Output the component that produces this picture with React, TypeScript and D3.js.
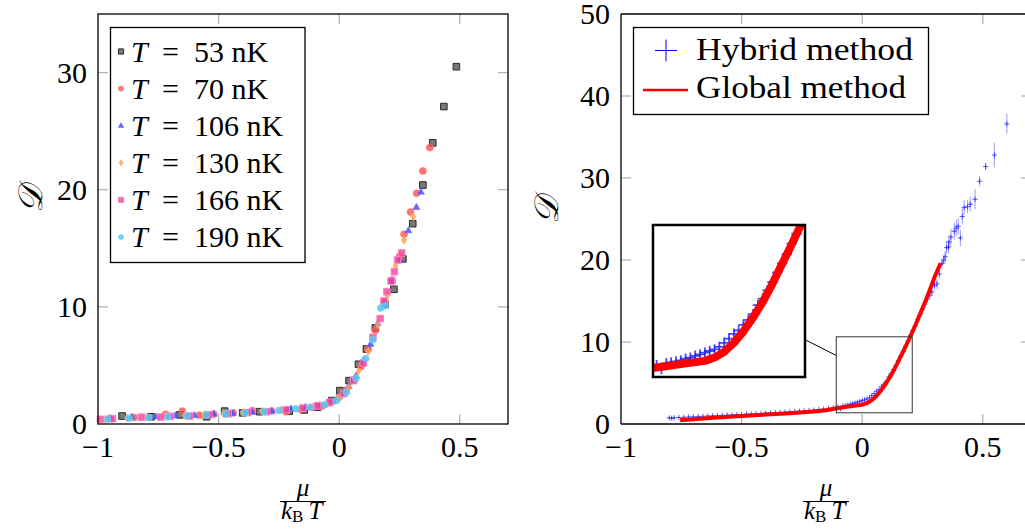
import React from 'react';
import * as d3 from 'd3';

// ---------- data ----------
const tempLabels = ['53', '70', '106', '130', '166', '190'];

const s53: [number, number][] = [
  [-0.9, 0.68], [-0.78, 0.62], [-0.66, 0.78], [-0.55, 0.62], [-0.475, 1.1], [-0.4, 0.95],
  [-0.33, 1.05], [-0.207, 1.1], [-0.145, 1.2], [-0.09, 1.43], [-0.03, 2.0], [0.003, 2.85],
  [0.041, 3.7], [0.08, 5.1], [0.113, 6.4], [0.15, 8.2], [0.19, 10.2], [0.227, 11.5],
  [0.264, 14.1], [0.305, 17.1], [0.347, 20.4], [0.388, 24.0], [0.434, 27.1], [0.486, 30.5],
];
const s70: [number, number][] = [
  [-0.95, 0.5], [-0.85, 0.55], [-0.72, 0.83], [-0.65, 1.1], [-0.58, 0.75], [-0.52, 0.85],
  [-0.44, 0.95], [-0.36, 1.15], [-0.28, 1.1], [-0.22, 1.05], [-0.16, 1.25], [-0.11, 1.43],
  [-0.07, 1.54], [-0.04, 1.8], [0.0, 2.3], [0.03, 2.9], [0.06, 3.8], [0.09, 4.9],
  [0.12, 6.4], [0.15, 8.0], [0.19, 10.4], [0.22, 12.3], [0.25, 14.3], [0.269, 16.2],
  [0.296, 18.1], [0.321, 19.7], [0.347, 21.6], [0.376, 23.6],
];
const s106: [number, number][] = [
  [-0.95, 0.45], [-0.86, 0.6], [-0.76, 0.62], [-0.68, 0.7], [-0.6, 0.72], [-0.52, 0.85],
  [-0.44, 0.9], [-0.36, 1.0], [-0.28, 1.1], [-0.2, 1.3], [-0.14, 1.45], [-0.08, 1.6],
  [-0.03, 1.95], [0.01, 2.5], [0.04, 3.2], [0.07, 4.1], [0.1, 5.4], [0.13, 6.8],
  [0.16, 8.6], [0.19, 10.2], [0.22, 12.2], [0.25, 14.0], [0.287, 16.5], [0.32, 18.5], [0.339, 19.8],
];
const s130: [number, number][] = [
  [-0.97, 0.4], [-0.88, 0.5], [-0.8, 0.58], [-0.72, 0.66], [-0.64, 0.72], [-0.56, 0.8],
  [-0.48, 0.88], [-0.4, 0.98], [-0.32, 1.08], [-0.24, 1.2], [-0.16, 1.38], [-0.1, 1.55],
  [-0.05, 1.75], [0.0, 2.2], [0.04, 3.1], [0.08, 4.5], [0.12, 6.2], [0.16, 8.5],
  [0.2, 11.0], [0.234, 13.5], [0.269, 15.7], [0.307, 17.7],
];
const s166: [number, number][] = [
  [-0.99, 0.4], [-0.94, 0.45], [-0.82, 0.58], [-0.74, 0.6], [-0.7, 0.65], [-0.62, 0.68],
  [-0.54, 0.78], [-0.46, 0.88], [-0.38, 0.98], [-0.3, 1.05], [-0.22, 1.22], [-0.15, 1.35],
  [-0.09, 1.55], [-0.04, 1.85], [0.02, 2.6], [0.06, 3.7], [0.1, 5.2], [0.14, 7.4],
  [0.17, 9.0], [0.186, 10.5], [0.198, 11.3], [0.215, 12.2], [0.229, 13.0], [0.242, 14.0], [0.259, 14.6],
];
const s190: [number, number][] = [
  [-0.96, 0.42], [-0.87, 0.5], [-0.79, 0.55], [-0.71, 0.62], [-0.63, 0.7], [-0.55, 0.78],
  [-0.47, 0.85], [-0.39, 0.95], [-0.31, 1.05], [-0.25, 1.15], [-0.18, 1.3], [-0.12, 1.42],
  [-0.06, 1.65], [-0.01, 2.0], [0.03, 2.7], [0.07, 3.9], [0.11, 5.6], [0.14, 7.2],
  [0.172, 9.9], [0.19, 10.1],
];
const leftSeries = [s53, s70, s106, s130, s166, s190];

// Global method (red line)
const globalX = [-0.755, -0.7, -0.6, -0.5, -0.4, -0.3, -0.2, -0.15, -0.1, -0.05, 0, 0.02, 0.04,
  0.06, 0.08, 0.1, 0.12, 0.14, 0.16, 0.18, 0.2, 0.22, 0.24, 0.26, 0.28, 0.3, 0.325];
const globalD = [0.45, 0.58, 0.78, 0.98, 1.15, 1.32, 1.52, 1.68, 1.95, 2.15, 2.35, 2.55, 2.9,
  3.45, 4.15, 5.0, 5.95, 7.05, 8.25, 9.45, 10.7, 12.0, 13.4, 14.8, 16.3, 17.9, 19.6];

// Hybrid method: [mu/kT, D, error]
const hybrid: [number, number, number][] = [
  [-0.8, 0.75, 0.1], [-0.79, 0.7, 0.1], [-0.78, 0.76, 0.1], [-0.76, 0.8, 0.1], [-0.74, 0.82, 0.1],
  [-0.72, 0.86, 0.1], [-0.7, 0.88, 0.1], [-0.68, 0.92, 0.1], [-0.66, 0.94, 0.1], [-0.64, 0.98, 0.1],
  [-0.62, 1.0, 0.1], [-0.6, 1.02, 0.1], [-0.58, 1.05, 0.1], [-0.56, 1.08, 0.1], [-0.54, 1.1, 0.1],
  [-0.52, 1.13, 0.1], [-0.5, 1.16, 0.1], [-0.48, 1.2, 0.1], [-0.46, 1.22, 0.1], [-0.44, 1.26, 0.1],
  [-0.42, 1.28, 0.1], [-0.4, 1.32, 0.1], [-0.38, 1.34, 0.1], [-0.36, 1.38, 0.1], [-0.34, 1.41, 0.1],
  [-0.32, 1.44, 0.1], [-0.3, 1.48, 0.1], [-0.28, 1.52, 0.1], [-0.26, 1.56, 0.1], [-0.24, 1.6, 0.1],
  [-0.22, 1.65, 0.1], [-0.2, 1.7, 0.1], [-0.18, 1.76, 0.1], [-0.16, 1.82, 0.1], [-0.14, 1.9, 0.1],
  [-0.12, 1.98, 0.1], [-0.1, 2.08, 0.1], [-0.09, 1.85, 0.1], [-0.08, 2.2, 0.1], [-0.07, 2.25, 0.1],
  [-0.06, 2.32, 0.1], [-0.05, 2.38, 0.1], [-0.04, 2.48, 0.1], [-0.03, 2.55, 0.1], [-0.02, 2.66, 0.1],
  [-0.01, 2.74, 0.1], [0.0, 2.85, 0.1], [0.01, 2.95, 0.1], [0.02, 3.05, 0.1], [0.03, 3.2, 0.1],
  [0.04, 3.45, 0.1], [0.05, 3.7, 0.1], [0.06, 4.0, 0.1], [0.07, 4.2, 0.1], [0.08, 4.55, 0.15],
  [0.09, 4.85, 0.15], [0.1, 5.2, 0.15], [0.11, 5.75, 0.15], [0.12, 6.15, 0.15], [0.13, 6.65, 0.2],
  [0.14, 7.15, 0.2], [0.15, 7.75, 0.2], [0.16, 8.3, 0.2], [0.17, 8.85, 0.2], [0.18, 9.5, 0.25],
  [0.19, 10.1, 0.25], [0.2, 10.8, 0.25], [0.21, 11.4, 0.3], [0.22, 12.0, 0.3], [0.23, 12.7, 0.3],
  [0.24, 13.3, 0.3], [0.25, 14.0, 0.35], [0.26, 14.6, 0.35], [0.27, 15.2, 0.4], [0.28, 15.7, 0.4],
  [0.289, 16.1, 0.5], [0.3, 16.9, 0.5], [0.31, 17.1, 0.6], [0.32, 18.3, 0.6], [0.331, 19.6, 0.6],
  [0.338, 20.0, 0.6], [0.344, 20.4, 0.7], [0.35, 21.5, 0.8], [0.358, 21.6, 0.8], [0.36, 22.2, 0.8],
  [0.368, 22.8, 1.0], [0.382, 23.5, 1.0], [0.39, 23.9, 1.0], [0.398, 24.1, 1.0], [0.407, 22.7, 1.0],
  [0.415, 25.3, 1.0], [0.423, 26.4, 0.9], [0.437, 26.5, 0.8], [0.448, 26.8, 0.9], [0.468, 27.4, 1.2],
  [0.487, 29.6, 0.6], [0.512, 31.4, 0.5], [0.548, 32.8, 1.5], [0.6, 36.6, 1.2],
];

const xTickVals = [-1, -0.5, 0, 0.5];
const leftYTickVals = [0, 10, 20, 30];
const rightYTickVals = [0, 10, 20, 30, 40, 50];
const legendRight = ['Hybrid method', 'Global method'];

// ---------- layout ----------
const FONT = '"Liberation Serif", "DejaVu Serif", serif';
const xL = d3.scaleLinear().domain([-1, 0.7]).range([98, 508]);
const yL = d3.scaleLinear().domain([0, 35]).range([424, 14]);
const xR = d3.scaleLinear().domain([-1, 0.7]).range([621, 1031]);
const yR = d3.scaleLinear().domain([0, 50]).range([424, 14]);

const fmt = (v: number) => (v < 0 ? '\u2212' + Math.abs(v) : String(v));

const styles = [
  { shape: 'square', fill: '#6a6a6a', stroke: '#2a2a2a', fo: 0.9 },
  { shape: 'circle', fill: '#ff5252', stroke: '#ff7070', fo: 0.8 },
  { shape: 'triangle', fill: '#4a4aff', stroke: '#6a6aff', fo: 0.85 },
  { shape: 'diamond', fill: '#ffa050', stroke: '#ffb070', fo: 0.85 },
  { shape: 'square', fill: '#f0409c', stroke: '#ff80c4', fo: 0.8 },
  { shape: 'circle', fill: '#55c4f0', stroke: '#80d4f5', fo: 0.85 },
];

function Marker({ shape, x, y, r, fill, stroke, fo }: any) {
  if (shape === 'circle')
    return <circle cx={x} cy={y} r={r} fill={fill} fillOpacity={fo} stroke={stroke} strokeWidth={0.6} />;
  let d = '';
  if (shape === 'square') d = `M${-r},${-r}h${2 * r}v${2 * r}h${-2 * r}Z`;
  else if (shape === 'triangle') d = `M0,${-r * 1.2}L${r * 1.05},${r * 0.65}L${-r * 1.05},${r * 0.65}Z`;
  else d = `M0,${-r * 1.25}L${r * 0.8},0L0,${r * 1.25}L${-r * 0.8},0Z`;
  return (
    <path d={d} transform={`translate(${x},${y})`} fill={fill} fillOpacity={fo} stroke={stroke}
      strokeWidth={shape === 'square' ? 1 : 0.6} />
  );
}

function Ticks({ sx, sy, yTicks }: any) {
  const [x0, x1] = sx.range();
  const [y0, y1] = sy.range();
  const tl = 10;
  const c = '#b4b4b4';
  return (
    <g stroke={c} strokeWidth={1.3}>
      {xTickVals.filter((v) => v > sx.domain()[0]).map((v) => (
        <g key={'x' + v}>
          <line x1={sx(v)} x2={sx(v)} y1={y0} y2={y0 - tl} />
          <line x1={sx(v)} x2={sx(v)} y1={y1} y2={y1 + tl} />
        </g>
      ))}
      {yTicks.filter((v: number) => v > 0 && v < sy.domain()[1]).map((v: number) => (
        <g key={'y' + v}>
          <line x1={x0} x2={x0 + tl} y1={sy(v)} y2={sy(v)} />
          <line x1={x1} x2={x1 - tl} y1={sy(v)} y2={sy(v)} />
        </g>
      ))}
    </g>
  );
}

function TickLabels({ sx, sy, yTicks }: any) {
  const x0 = sx.range()[0];
  return (
    <g fontFamily={FONT} fontSize={30} fill="#000">
      {xTickVals.map((v) => (
        <text key={'x' + v} x={sx(v)} y={457} textAnchor="middle">{fmt(v)}</text>
      ))}
      {yTicks.map((v: number) => (
        <text key={'y' + v} x={x0 - 11} y={sy(v) + 10} textAnchor="end">{fmt(v)}</text>
      ))}
    </g>
  );
}

function XLabel({ cx }: { cx: number }) {
  return (
    <g fontFamily={FONT} fill="#000">
      <text x={cx} y={496} textAnchor="middle" fontSize={25} fontStyle="italic">μ</text>
      <line x1={cx - 23} x2={cx + 23} y1={501.5} y2={501.5} stroke="#000" strokeWidth={1} />
      <text x={cx - 22} y={519} fontSize={25}>
        <tspan fontStyle="italic">k</tspan>
        <tspan fontSize={17} dy={3}>B</tspan>
        <tspan fontStyle="italic" dy={-3} dx={5}>T</tspan>
      </text>
    </g>
  );
}

function YLabel({ x, y }: { x: number; y: number }) {
  return (
    <text transform={`translate(${x},${y}) rotate(-90)`} textAnchor="middle" fontFamily={FONT}
      fontSize={34} fontStyle="italic" fill="#000">𝒟</text>
  );
}

function HybridAndGlobal() {
  const line = d3.line<number>().x((_, i) => xR(globalX[i])).y((d) => yR(d));
  const cs = 2.6;
  return (
    <g>
      <g stroke="#3030ff" strokeOpacity={0.55} strokeWidth={0.9}>
        {hybrid.map(([x, d, e], i) => (
          <line key={'e' + i} x1={xR(x)} x2={xR(x)} y1={yR(d - e)} y2={yR(d + e)} />
        ))}
      </g>
      <g stroke="#1010ff" strokeOpacity={0.75} strokeWidth={0.9}>
        {hybrid.map(([x, d], i) => (
          <path key={'c' + i} d={`M${xR(x) - cs},${yR(d)}h${2 * cs}M${xR(x)},${yR(d) - cs}v${2 * cs}`} />
        ))}
      </g>
      <path d={line(globalD) || ''} fill="none" stroke="#ff0000" strokeWidth={4} strokeLinejoin="round" />
    </g>
  );
}

export default function App() {
  // spy
  const spyC = [xR(0.05), yR(6)];
  const spyS = 76;
  const mag = 2;
  const insC = [729, 301];
  const insS = spyS * mag;
  const slope = (spyC[1] - insC[1]) / (spyC[0] - insC[0]);
  const lx1 = insC[0] + insS / 2;
  const ly1 = insC[1] + slope * (insS / 2);
  const lx2 = spyC[0] - spyS / 2;
  const ly2 = insC[1] + slope * (lx2 - insC[0]);

  return (
    <svg width={1025} height={532} style={{ position: 'absolute', left: 0, top: 0, display: 'block', background: '#fff' }}>
      <defs>
        <clipPath id="insetClip">
          <rect x={insC[0] - insS / 2} y={insC[1] - insS / 2} width={insS} height={insS} />
        </clipPath>
      </defs>
      <rect width={1025} height={532} fill="#fff" />

      {/* ---------- LEFT PANEL ---------- */}
      <Ticks sx={xL} sy={yL} yTicks={leftYTickVals} />
      <g>
        {leftSeries.map((s, si) => (
          <g key={si}>
            {s.map(([x, d], i) => (
              <Marker key={i} {...styles[si]} x={xL(x)} y={yL(d)}
                r={styles[si].shape === 'square' ? 3.3 : styles[si].shape === 'circle' ? 3.5 : 3.3} />
            ))}
          </g>
        ))}
      </g>
      <rect x={98} y={14} width={410} height={410} fill="none" stroke="#000" strokeWidth={1.3} />
      <TickLabels sx={xL} sy={yL} yTicks={leftYTickVals} />
      <XLabel cx={303} />
      <YLabel x={42} y={199} />
      <g>
        <rect x={110.5} y={27.5} width={194.5} height={235} fill="#fff" stroke="#000" strokeWidth={1.3} />
        {tempLabels.map((t, i) => {
          const cy = 51.5 + i * 37.1;
          return (
            <g key={t}>
              <Marker {...styles[i]} x={121} y={cy} r={2.6} />
              <text y={cy + 10} fontFamily={FONT} fontSize={30} fill="#000">
                <tspan x={131} fontStyle="italic">T</tspan>
                <tspan x={162}>=</tspan>
                <tspan x={194}>{t} nK</tspan>
              </text>
            </g>
          );
        })}
      </g>

      {/* ---------- RIGHT PANEL ---------- */}
      <Ticks sx={xR} sy={yR} yTicks={rightYTickVals} />
      <HybridAndGlobal />
      <line x1={621} x2={1031} y1={424} y2={424} stroke="#000" strokeWidth={1.3} />
      <line x1={621} x2={1031} y1={14} y2={14} stroke="#000" strokeWidth={1.3} />
      <line x1={621} x2={621} y1={14} y2={424} stroke="#000" strokeWidth={1.3} />
      <TickLabels sx={xR} sy={yR} yTicks={rightYTickVals} />
      <XLabel cx={826} />
      <YLabel x={558} y={210} />

      {/* spy */}
      <rect x={spyC[0] - spyS / 2} y={spyC[1] - spyS / 2} width={spyS} height={spyS} fill="none"
        stroke="#333" strokeWidth={1} />
      <line x1={lx1} y1={ly1} x2={lx2} y2={ly2} stroke="#000" strokeWidth={1} />
      <rect x={insC[0] - insS / 2} y={insC[1] - insS / 2} width={insS} height={insS} fill="#fff" />
      <g clipPath="url(#insetClip)">
        <g transform={`translate(${insC[0]},${insC[1]}) scale(${mag}) translate(${-spyC[0]},${-spyC[1]})`}>
          <HybridAndGlobal />
        </g>
      </g>
      <rect x={insC[0] - insS / 2} y={insC[1] - insS / 2} width={insS} height={insS} fill="none"
        stroke="#000" strokeWidth={2.5} />

      {/* right legend */}
      <g>
        <rect x={633.5} y={27.5} width={295} height={87} fill="#fff" stroke="#000" strokeWidth={1.3} />
        <path d={`M655,50.5h22M666,39.5v22`} stroke="#0000ff" strokeWidth={1} />
        <line x1={643} x2={688} y1={90} y2={90} stroke="#ff0000" strokeWidth={2.5} />
        {legendRight.map((t, i) => (
          <text key={t} x={696} y={60 + i * 38} fontFamily={FONT} fontSize={31} fill="#000"
            textLength={i === 0 ? 217 : 210} lengthAdjust="spacingAndGlyphs">{t}</text>
        ))}
      </g>
    </svg>
  );
}
